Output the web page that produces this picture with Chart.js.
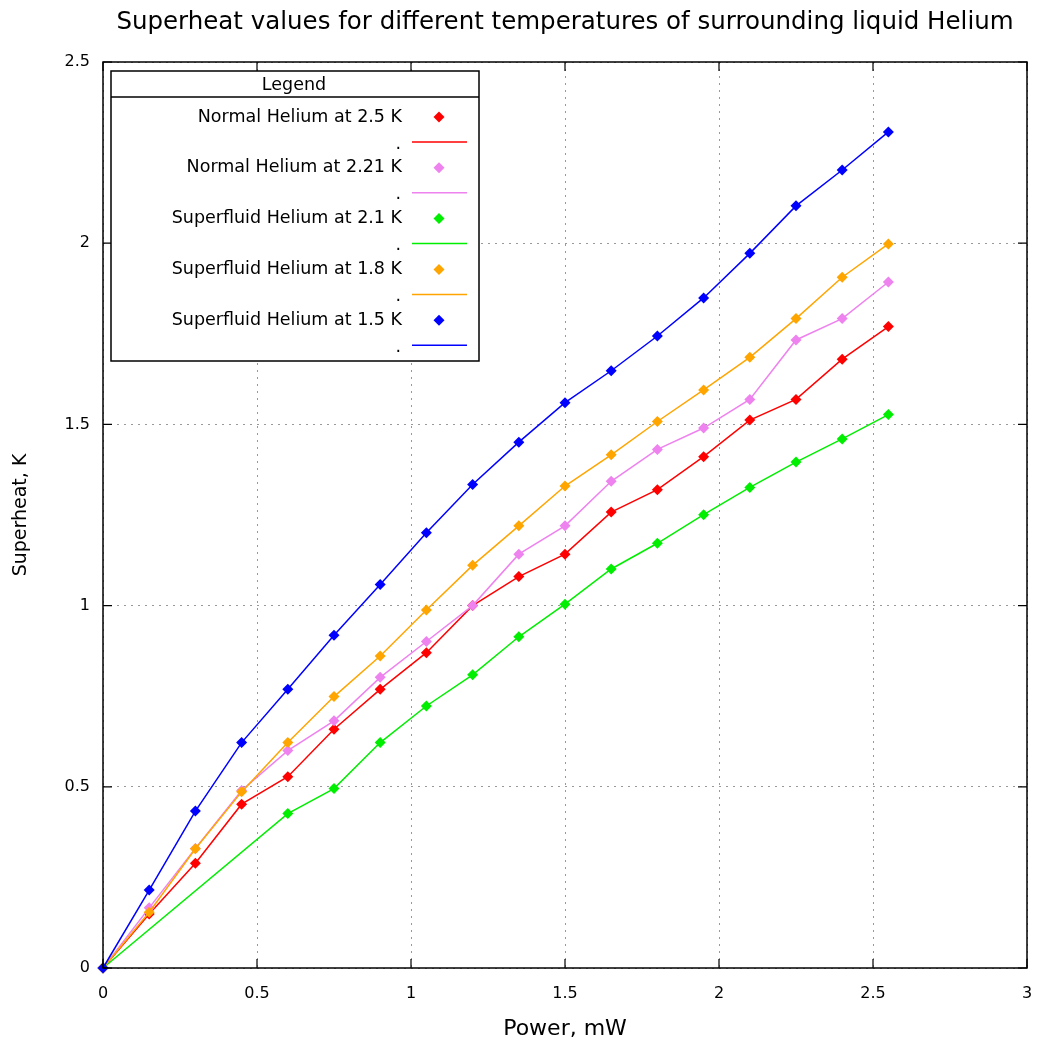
<html>
<head>
    <title>Superheat values</title>
    <script src="https://cdn.jsdelivr.net/npm/chart.js"></script>
    <style>
        body { margin: 0; background: white; }
        #wrap { width: 1040px; height: 1045px; }
    </style>
</head>
<body>
    <div id="wrap"><canvas id="chart" width="1040" height="1045"></canvas></div>
    <script>
        // power steps in mW
        var power = [0, 0.15, 0.3, 0.45, 0.6, 0.75, 0.9, 1.05, 1.2, 1.35, 1.5, 1.65, 1.8, 1.95, 2.1, 2.25, 2.4, 2.55];
        var powerGreen = [0, 0.6, 0.75, 0.9, 1.05, 1.2, 1.35, 1.5, 1.65, 1.8, 1.95, 2.1, 2.25, 2.4, 2.55];

        var normal25 = [0, 0.149, 0.289, 0.452, 0.528, 0.659, 0.769, 0.87, 1.0, 1.08, 1.142, 1.258, 1.32, 1.411, 1.512, 1.569, 1.68, 1.77];
        var normal221 = [0, 0.166, 0.33, 0.49, 0.6, 0.682, 0.802, 0.901, 1.0, 1.142, 1.22, 1.343, 1.431, 1.49, 1.569, 1.733, 1.792, 1.893];
        var super21 = [0, 0.426, 0.495, 0.622, 0.723, 0.809, 0.914, 1.004, 1.101, 1.172, 1.251, 1.326, 1.396, 1.46, 1.527];
        var super18 = [0, 0.154, 0.329, 0.486, 0.622, 0.749, 0.861, 0.988, 1.111, 1.22, 1.33, 1.416, 1.508, 1.595, 1.685, 1.792, 1.906, 1.998];
        var super15 = [0, 0.215, 0.433, 0.622, 0.769, 0.918, 1.058, 1.201, 1.334, 1.451, 1.56, 1.648, 1.744, 1.849, 1.972, 2.103, 2.202, 2.307];

        var seriesNames = ["Normal Helium at 2.5 K", "Normal Helium at 2.21 K", "Superfluid Helium at 2.1 K", "Superfluid Helium at 1.8 K", "Superfluid Helium at 1.5 K"];
        var seriesColors = ["#ff0000", "#ee82ee", "#00ee00", "#ffa500", "#0000ff"];
        var xTicks = [0, 0.5, 1, 1.5, 2, 2.5, 3];
        var yTicks = [0, 0.5, 1, 1.5, 2, 2.5];

        var FONT = "'DejaVu Sans', sans-serif";

        function toPoints(xs, ys) {
            return xs.map((x, i) => ({ x: x, y: ys[i] }));
        }

        var allSeries = [
            toPoints(power, normal25),
            toPoints(power, normal221),
            toPoints(powerGreen, super21),
            toPoints(power, super18),
            toPoints(power, super15)
        ];

        var datasets = allSeries.map((pts, i) => ({
            label: seriesNames[i],
            data: pts,
            borderColor: seriesColors[i],
            backgroundColor: seriesColors[i],
            borderWidth: 1.5,
            pointStyle: "rectRot",
            pointRadius: 5.5,
            pointBorderWidth: 0,
            pointHoverRadius: 5.5,
            tension: 0,
            clip: false,
            order: 5 - i
        }));

        // gnuplot-style frame with inward ticks, plus the boxed legend
        var framePlugin = {
            id: "frame",
            afterDraw(chart) {
                var ctx = chart.ctx;
                var a = chart.chartArea;
                var xs = chart.scales.x, ys = chart.scales.y;
                ctx.save();
                ctx.strokeStyle = "#000";
                ctx.lineWidth = 1.5;
                ctx.strokeRect(a.left, a.top, a.right - a.left, a.bottom - a.top);
                ctx.lineWidth = 1.2;
                ctx.beginPath();
                xTicks.forEach(v => {
                    var px = xs.getPixelForValue(v);
                    ctx.moveTo(px, a.bottom); ctx.lineTo(px, a.bottom - 9);
                    ctx.moveTo(px, a.top); ctx.lineTo(px, a.top + 9);
                });
                yTicks.forEach(v => {
                    var py = ys.getPixelForValue(v);
                    ctx.moveTo(a.left, py); ctx.lineTo(a.left + 9, py);
                    ctx.moveTo(a.right, py); ctx.lineTo(a.right - 9, py);
                });
                ctx.stroke();

                // legend box
                var bx = a.left + 8, by = a.top + 9, bw = 368, bh = 290;
                ctx.fillStyle = "#fff";
                ctx.fillRect(bx, by, bw, bh);
                ctx.lineWidth = 1.5;
                ctx.strokeRect(bx, by, bw, bh);
                ctx.beginPath();
                ctx.moveTo(bx, by + 26); ctx.lineTo(bx + bw, by + 26);
                ctx.stroke();
                ctx.fillStyle = "#000";
                ctx.font = "17.5px " + FONT;
                ctx.textAlign = "center";
                ctx.textBaseline = "middle";
                ctx.fillText("Legend", bx + bw / 2 - 1, by + 14);

                chart.data.datasets.forEach((ds, i) => {
                    var ry = by + 46 + i * 50.8;
                    ctx.fillStyle = "#000";
                    ctx.textAlign = "right";
                    ctx.fillText(ds.label, bx + 291, ry);
                    ctx.fillText(".", bx + 290, ry + 27);
                    // marker
                    ctx.fillStyle = ds.borderColor;
                    ctx.beginPath();
                    ctx.moveTo(bx + 328, ry - 5.5);
                    ctx.lineTo(bx + 333.5, ry);
                    ctx.lineTo(bx + 328, ry + 5.5);
                    ctx.lineTo(bx + 322.5, ry);
                    ctx.closePath();
                    ctx.fill();
                    // line sample
                    ctx.strokeStyle = ds.borderColor;
                    ctx.lineWidth = 1.5;
                    ctx.beginPath();
                    ctx.moveTo(bx + 301, ry + 25);
                    ctx.lineTo(bx + 356, ry + 25);
                    ctx.stroke();
                });
                ctx.restore();
            }
        };

        new Chart(document.getElementById("chart"), {
            type: "line",
            data: { datasets: datasets },
            options: {
                responsive: false,
                animation: false,
                events: [],
                layout: { padding: { right: 13, top: 0, left: 0, bottom: 0 } },
                plugins: {
                    legend: { display: false },
                    tooltip: { enabled: false },
                    title: {
                        display: true,
                        text: "Superheat values for different temperatures of surrounding liquid Helium",
                        fullSize: false,
                        color: "#000",
                        font: { family: FONT, size: 24.5, weight: "normal" },
                        padding: { top: 8, bottom: 24.6 }
                    }
                },
                scales: {
                    x: {
                        type: "linear",
                        min: 0,
                        max: 3,
                        afterFit(scale) { scale.height = 77; scale.paddingRight = 0; scale.paddingLeft = 0; },
                        afterBuildTicks(scale) { scale.ticks = xTicks.map(v => ({ value: v })); },
                        ticks: { color: "#000", font: { family: FONT, size: 16 }, padding: 16, maxRotation: 0, callback: v => String(v) },
                        grid: { color: "#999", lineWidth: 1, drawTicks: false },
                        border: { display: false, dash: [2, 5] },
                        title: {
                            display: true,
                            text: "Power, mW",
                            color: "#000",
                            font: { family: FONT, size: 22 },
                            padding: { top: 0, bottom: 3 }
                        }
                    },
                    y: {
                        min: 0,
                        max: 2.5,
                        afterFit(scale) { scale.width = 103; scale.paddingTop = 0; scale.paddingBottom = 0; },
                        afterBuildTicks(scale) { scale.ticks = yTicks.map(v => ({ value: v })); },
                        ticks: { color: "#000", font: { family: FONT, size: 16 }, padding: 13, callback: v => String(v) },
                        grid: { color: "#999", lineWidth: 1, drawTicks: false },
                        border: { display: false, dash: [2, 5] },
                        title: {
                            display: true,
                            text: "Superheat, K",
                            color: "#000",
                            font: { family: FONT, size: 19 },
                            padding: { top: 10, bottom: 0 }
                        }
                    }
                }
            },
            plugins: [framePlugin]
        });
    </script>
</body>
</html>
